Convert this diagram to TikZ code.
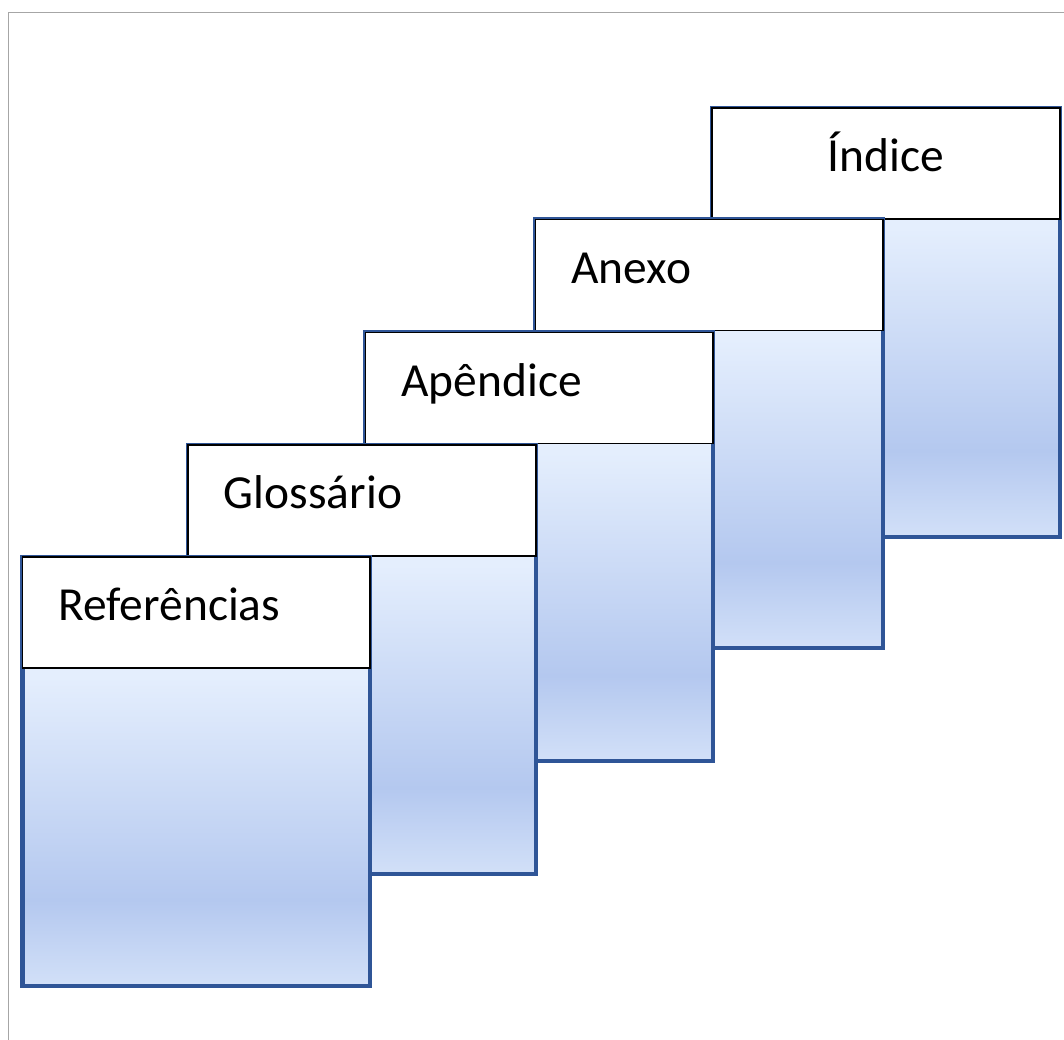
\documentclass[tikz,border=0pt]{standalone}
\usepackage{fontspec}
\setmainfont{Carlito}
\usetikzlibrary{positioning}

\definecolor{pageblue}{HTML}{2F5597}
\definecolor{fadetop}{HTML}{E4EEFD}
\definecolor{fademid}{HTML}{B4C8EF}
\definecolor{fadebot}{HTML}{D2E0F8}
\definecolor{framegray}{HTML}{A6A6A6}
\pgfdeclareverticalshading{bluefade}{100bp}{color(0bp)=(fadebot); color(25bp)=(fadebot); color(35bp)=(fademid); color(61bp)=(fadetop); color(100bp)=(fadetop)}

\begin{document}
\begin{tikzpicture}
  [x = 0.02cm, y = -0.02cm,
   body/.style = {rectangle, draw=pageblue, line width=2.3pt, shading=bluefade,
     anchor=north west, inner sep=0pt, outer sep=0pt,
     minimum width=6.96cm, minimum height=8.58cm},
   head/.style = {rectangle, draw=black, line width=1.1pt, fill=white,
     anchor=north west, outer sep=0pt, inner ysep=0pt, inner xsep=0.72cm,
     minimum width=6.96cm, minimum height=2.22cm, text width=5.52cm,
     text height=0.5cm, text depth=0.16cm, align=left,
     font=\fontsize{27}{32}\selectfont}]
  \useasboundingbox (0, 0) rectangle (1064, 1040);

  % frame
  \draw [framegray, line width=1.1pt] (8.5, 1040) -- (8.5, 12.5) -- (1064, 12.5);

  \node [body] (idxbody) at (712, 107.8) {};
  \node [head, align=center] (idxhead) at (712, 107.8) {Índice};

  \node [body] (anxbody) at (535.5, 219.5) {};
  \node [head] (anxhead) at (535.5, 219.5) {Anexo};

  \node [body] (apxbody) at (365.5, 332.5) {};
  \node [head] (apxhead) at (365.5, 332.5) {Apêndice};

  \node [body] (glsbody) at (188, 445) {};
  \node [head] (glshead) at (188, 445) {Glossário};

  \node [body] (refbody) at (22.5, 557) {};
  \node [head] (refhead) at (22.5, 557) {Referências};
\end{tikzpicture}
\end{document}
